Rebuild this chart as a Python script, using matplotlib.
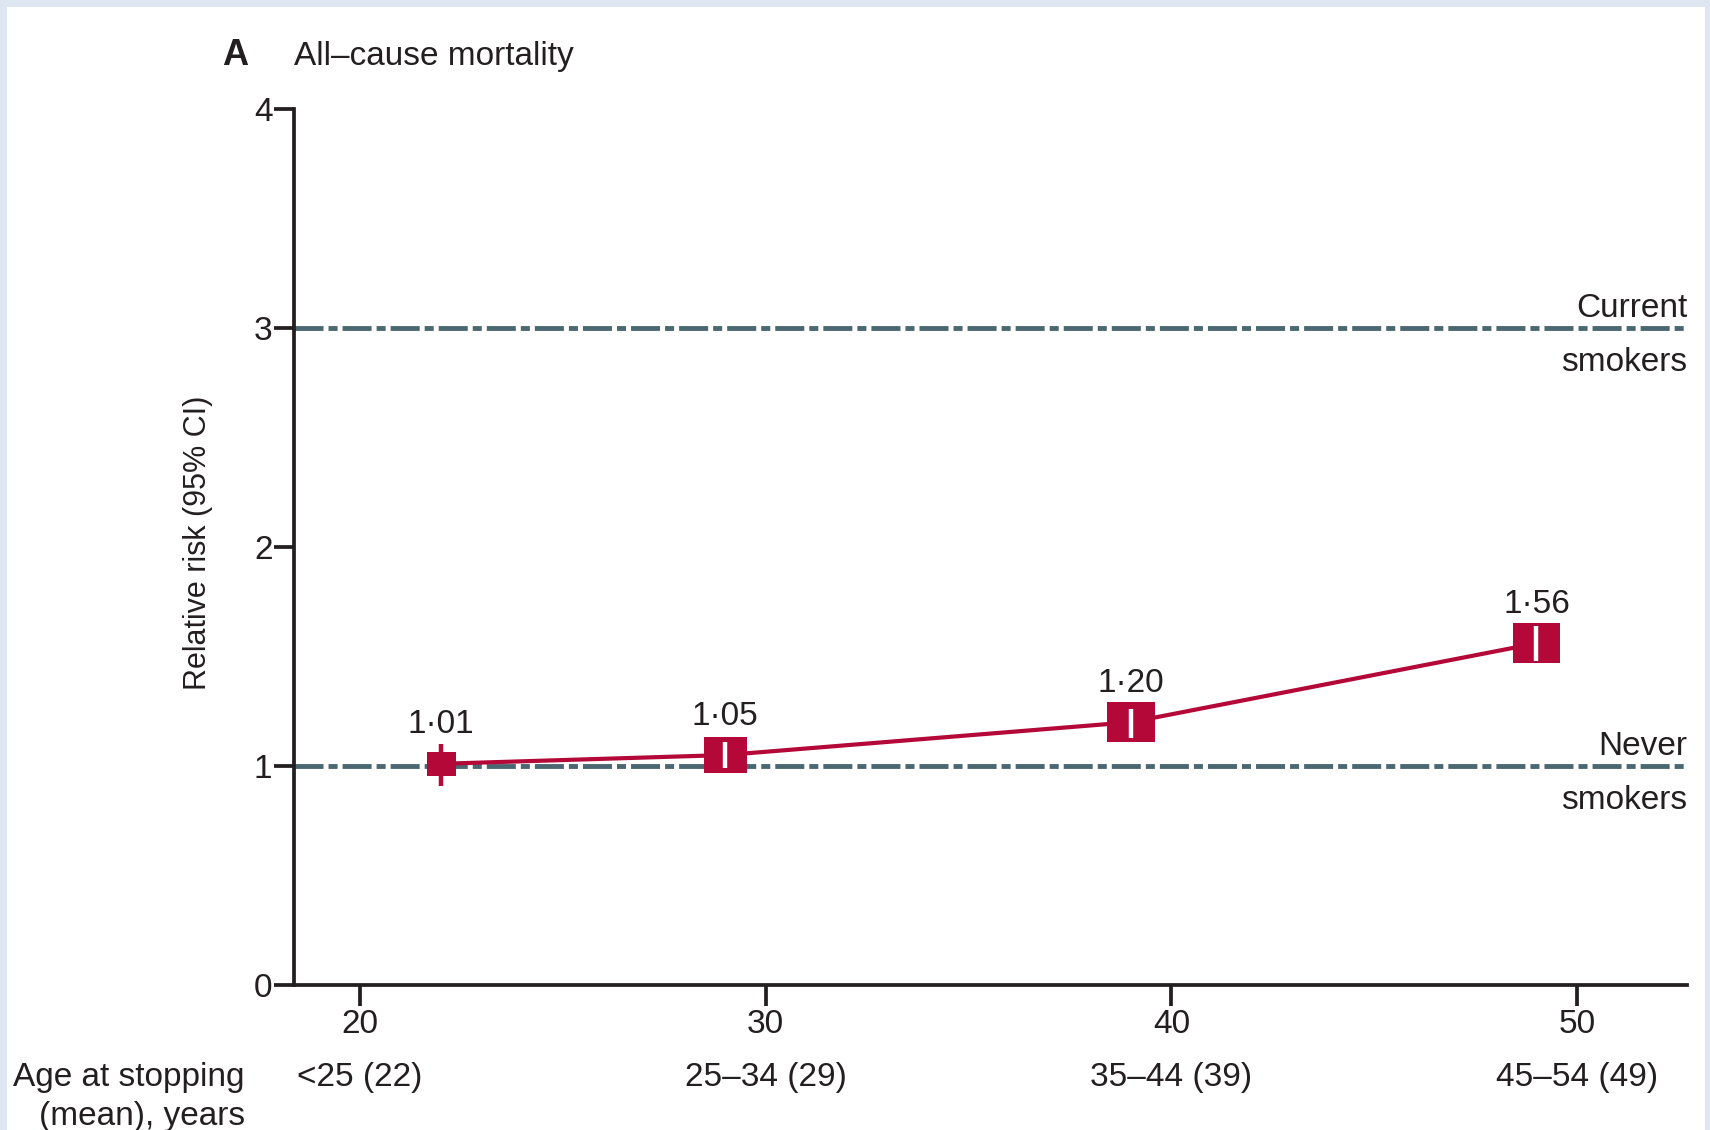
import matplotlib.pyplot as plt
from matplotlib.path import Path
from matplotlib.patches import Rectangle

plt.rcParams['font.family'] = ['Liberation Sans', 'DejaVu Sans']

# relative risk of death by age at stopping smoking
stop_age = [22, 29, 39, 49]
rr = [1.01, 1.05, 1.20, 1.56]
ci_lo = [0.91, 0.99, 1.13, 1.48]
ci_hi = [1.10, 1.11, 1.26, 1.64]
rr_text = ['1·01', '1·05', '1·20', '1·56']
x_ticks = [20, 30, 40, 50]
age_groups = ['<25 (22)', '25–34 (29)', '35–44 (39)', '45–54 (49)']
y_ticks = [0, 1, 2, 3, 4]
ref_levels = [1, 3]
ref_names = [('Never', 'smokers'), ('Current', 'smokers')]

red = '#b30838'
ink = '#231f20'
slate = '#4b6872'
box_w = [21, 31, 34.5, 34.5]          # box widths (pt), weighted by study size
ci_col = [red, 'white', 'white', 'white']

# box marker, a bit wider than tall
box = Path([(-0.6, -0.5), (0.6, -0.5), (0.6, 0.5), (-0.6, 0.5), (-0.6, -0.5)],
           [Path.MOVETO, Path.LINETO, Path.LINETO, Path.LINETO, Path.CLOSEPOLY])

fig = plt.figure(figsize=(17.1, 11.3), dpi=100, facecolor='#dde6f1')
fig.add_artist(Rectangle((7 / 1710, 0), 1698 / 1710, 1123 / 1130,
                         transform=fig.transFigure, facecolor='white',
                         edgecolor='none', zorder=-10))

ax = fig.add_axes([0.17193, 0.12832, 0.81462, 0.77522])
ax.patch.set_alpha(0)

for lvl in ref_levels:
    ax.axhline(lvl, color=slate, lw=3.5, dashes=(5.97, 1.03, 1.86, 1.03), zorder=1)

ax.plot(stop_age, rr, color=red, lw=3.0, zorder=2)
ax.scatter(stop_age, rr, s=[w ** 2 for w in box_w], marker=box,
           color=red, linewidths=0, zorder=3)
ax.vlines(stop_age, ci_lo, ci_hi, colors=ci_col, lw=3.2, zorder=4)

for x, y, t in zip(stop_age, rr, rr_text):
    ax.annotate(t, (x, y), xytext=(0, 28), textcoords='offset points',
                ha='center', va='center', fontsize=24, color=ink)

for lvl, (top, bottom) in zip(ref_levels, ref_names):
    ax.annotate(top, (1, lvl), xycoords=ax.get_yaxis_transform(),
                xytext=(0, 8), textcoords='offset points',
                ha='right', va='baseline', fontsize=24, color=ink)
    ax.annotate(bottom, (1, lvl), xycoords=ax.get_yaxis_transform(),
                xytext=(0, -31), textcoords='offset points',
                ha='right', va='baseline', fontsize=24, color=ink)

for t, g in zip(x_ticks, age_groups):
    ax.annotate(g, (t, 0), xycoords=ax.get_xaxis_transform(),
                xytext=(0, -72.7), textcoords='offset points',
                ha='center', va='baseline', fontsize=24, color=ink)
ax.annotate('Age at stopping', (0, 0), xycoords='axes fraction',
            xytext=(-35.3, -72.7), textcoords='offset points',
            ha='right', va='baseline', fontsize=24, color=ink)
ax.annotate('(mean), years', (0, 0), xycoords='axes fraction',
            xytext=(-35.3, -100.8), textcoords='offset points',
            ha='right', va='baseline', fontsize=24, color=ink)

ax.set_xlim(18.373, 52.71)
ax.set_ylim(0, 4)
ax.set_xticks(x_ticks)
ax.set_yticks(y_ticks)
for side in ['top', 'right']:
    ax.spines[side].set_visible(False)
for side in ['left', 'bottom']:
    ax.spines[side].set_linewidth(2.7)
    ax.spines[side].set_color(ink)
ax.tick_params(axis='both', direction='out', width=2.7, color=ink,
               labelcolor=ink, labelsize=24)
ax.tick_params(axis='y', length=14.5, pad=1)
ax.tick_params(axis='x', length=15, pad=2)

fig.text(198 / 1710, 0.520, 'Relative risk (95% CI)', rotation=90,
         ha='center', va='center', fontsize=22, color=ink)
fig.text(222 / 1710, 1 - 65 / 1130, 'A', fontsize=26, fontweight='bold',
         ha='left', va='baseline', color=ink)
fig.text(294 / 1710, 1 - 65 / 1130, 'All–cause mortality', fontsize=24,
         ha='left', va='baseline', color=ink)

fig.savefig('out.png', dpi=100, facecolor=fig.get_facecolor())
